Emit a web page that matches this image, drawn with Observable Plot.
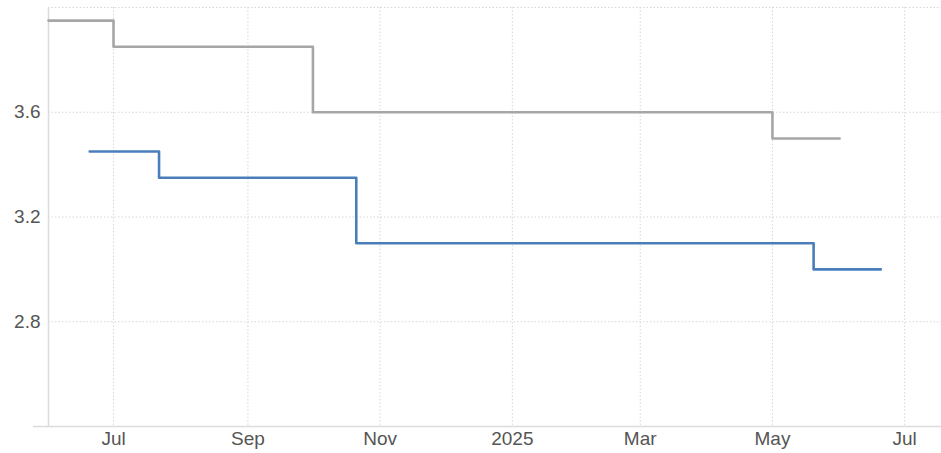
<!DOCTYPE html>
<html>
<head>
<meta charset="utf-8">
<script src="https://cdn.jsdelivr.net/npm/d3@7"></script>
<script src="https://cdn.jsdelivr.net/npm/@observablehq/plot@0.6"></script>
<style>
  html, body { margin: 0; padding: 0; background: #fff; }
  #chart { width: 941px; height: 453px; }
</style>
</head>
<body>
<div id="chart"></div>
<script>
// Gray series (step values)
const grayDates = ["2024-06-01", "2024-07-01", "2024-10-01", "2025-05-01", "2025-06-01"];
const grayValues = [3.95, 3.85, 3.60, 3.50, 3.50];
// Blue series (step values)
const blueDates = ["2024-06-20", "2024-07-22", "2024-10-21", "2025-05-20", "2025-06-20"];
const blueValues = [3.45, 3.35, 3.10, 3.00, 3.00];

const yTicks = [2.8, 3.2, 3.6];
const yGrid = [2.8, 3.2, 3.6, 4.0];
const xTicks = ["2024-07-01", "2024-09-01", "2024-11-01", "2025-01-01", "2025-03-01", "2025-05-01", "2025-07-01"];
const xTickLabels = ["Jul", "Sep", "Nov", "2025", "Mar", "May", "Jul"];

const parse = d3.utcParse("%Y-%m-%d");
const gray = grayDates.map((d, i) => ({date: parse(d), value: grayValues[i]}));
const blue = blueDates.map((d, i) => ({date: parse(d), value: blueValues[i]}));
const xTickDates = xTicks.map(parse);
const labelOf = new Map(xTickDates.map((d, i) => [+d, xTickLabels[i]]));

const chart = Plot.plot({
  width: 941,
  height: 453,
  marginLeft: 48,
  marginRight: 0,
  marginTop: 7,
  marginBottom: 27,
  style: {fontFamily: "'Liberation Sans', Arial, sans-serif", fontSize: "19px", color: "#555", background: "#fff"},
  x: {type: "utc", domain: [parse("2024-06-01"), parse("2025-07-18")], label: null},
  y: {domain: [2.4, 4.0], label: null},
  marks: [
    Plot.gridX(xTickDates, {stroke: "#d6d6d6", strokeOpacity: 1, strokeDasharray: "1.5,2"}),
    Plot.gridY(yGrid, {stroke: "#d6d6d6", strokeOpacity: 1, strokeDasharray: "1.5,2"}),
    Plot.ruleX([parse("2024-06-01")], {stroke: "#dcdcdc", strokeWidth: 1.5}),
    Plot.ruleY([2.4], {x1: parse("2024-05-25"), x2: parse("2025-07-18"), stroke: "#dcdcdc", strokeWidth: 1.5, clip: false}),
    Plot.axisY(yTicks, {tickSize: 0, tickPadding: 8, fill: "#555", label: null, tickFormat: d => d.toFixed(1)}),
    Plot.axisX(xTickDates, {tickSize: 0, tickPadding: 5, fill: "#555", label: null, tickFormat: d => labelOf.get(+d)}),
    Plot.line(gray, {x: "date", y: "value", curve: "step-after", stroke: "#a6a6a6", strokeWidth: 2.6}),
    Plot.line(blue, {x: "date", y: "value", curve: "step-after", stroke: "#4a7ebb", strokeWidth: 2.6})
  ]
});
document.getElementById("chart").appendChild(chart);
</script>
</body>
</html>
